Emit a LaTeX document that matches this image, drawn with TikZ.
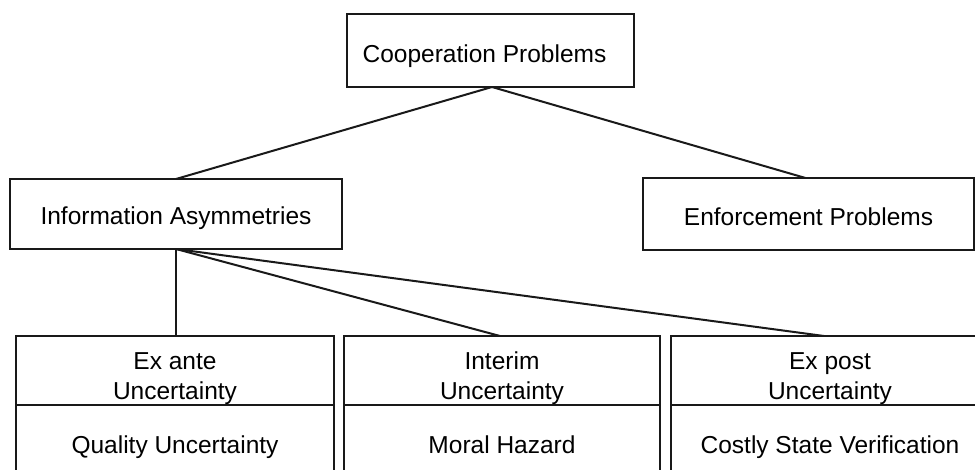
\documentclass[tikz,border=0pt]{standalone}
\usepackage{fontspec}
\setmainfont{Liberation Sans}
\begin{document}
\begin{tikzpicture}[x=1pt,y=-1pt,
  boxfont/.style={font=\fontsize{24.5}{30}\selectfont},
  box/.style={draw=black!90, line width=2pt, rectangle, inner sep=0pt, outer sep=0pt,
              align=center, boxfont},
  link/.style={draw=black!90, line width=2pt}]
\useasboundingbox (0,0) rectangle (975,470);
\clip (0,0) rectangle (975,470);
\node[box, minimum width=287, text height=48.8pt, text depth=24.2pt] (coop) at (490.5,50.5) {Cooperation Problems\hspace*{12pt}};
\node[box, minimum width=332, text height=45.8pt, text depth=24.2pt] (info) at (176,214) {Information Asymmetries};
\node[box, minimum width=331, text height=47.8pt, text depth=24.2pt] (enf) at (808.5,214) {Enforcement Problems};
% bottom row, upper parts
\node[box, minimum width=318, minimum height=69,
      label={[boxfont, align=center, yshift=-8pt]center:Ex ante\\Uncertainty}] (exante) at (175,370.5) {};
\node[box, minimum width=316, minimum height=69,
      label={[boxfont, align=center, yshift=-8pt]center:Interim\\Uncertainty}] (interim) at (502,370.5) {};
\node[box, minimum width=318, minimum height=69,
      label={[boxfont, align=center, yshift=-8pt]center:Ex post\\Uncertainty}] (expost) at (830,370.5) {};
% bottom row, lower parts
\node[box, minimum width=318, text height=48.8pt, text depth=36.2pt, anchor=north] (quality) at (exante.south) {Quality Uncertainty};
\node[box, minimum width=316, text height=48.8pt, text depth=36.2pt, anchor=north] (moral) at (interim.south) {Moral Hazard};
\node[box, minimum width=318, text height=48.8pt, text depth=36.2pt, anchor=north] (costly) at (expost.south) {Costly State Verification};
% connectors
\draw[link] ([xshift=1.5]coop.south) -- (info.north);
\draw[link] ([xshift=1.5]coop.south) -- ([xshift=-3]enf.north);
\draw[link] (info.south) -- (info.south |- exante.north);
\draw[link] (info.south) -- ([xshift=-2]interim.north);
\draw[link] (info.south) -- ([xshift=-6]expost.north);
\end{tikzpicture}
\end{document}
